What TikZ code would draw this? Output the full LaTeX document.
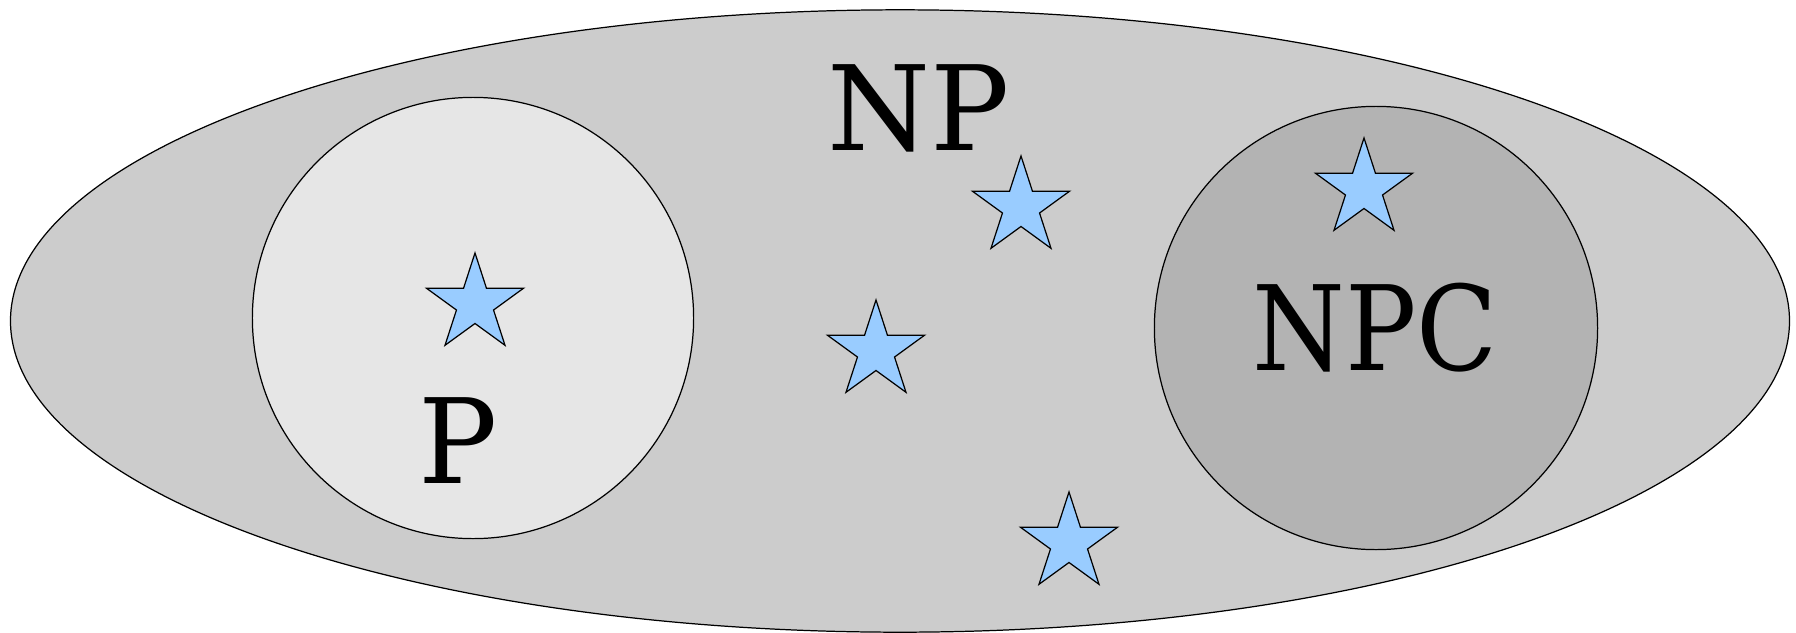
\documentclass[tikz,border=0pt]{standalone}
\usepackage{fontspec}
\setmainfont{DejaVu Serif}
\usepackage{xcolor}
\usepackage{tikz}
\usetikzlibrary{shapes.geometric}
\definecolor{npc}{HTML}{CCCCCC}
\definecolor{pc}{HTML}{E6E6E6}
\definecolor{npcc}{HTML}{B3B3B3}
\definecolor{starc}{HTML}{99CCFF}
\tikzset{
  cls/.style={draw=black,line width=0.35pt,inner sep=0pt},
  probstar/.style={star,star points=5,star point ratio=2.618,draw=black,line width=0.35pt,fill=starc,inner sep=0pt,minimum size=1.02cm},
  lbl/.style={font=\fontsize{33.5}{40}\selectfont,anchor=base,inner sep=0pt}
}
\begin{document}
\begin{tikzpicture}[x=0.01cm,y=-0.01cm]
\useasboundingbox (0,0) rectangle (1796,633);
\node[cls,ellipse,fill=npc,minimum width=17.78cm,minimum height=6.22cm] (np) at (900,321) {};
\node[cls,circle,fill=pc,minimum size=4.41cm] (p) at (473,318) {};
\node[cls,circle,fill=npcc,minimum size=4.43cm] (npcset) at (1376,328) {};
\node[lbl] (nplbl) at (919,150) {NP};
\node[lbl] (plbl) at (458,483) {P};
\node[lbl] (npclbl) at (1375,370) {\scalebox{0.9}[1]{NPC}};
\node[probstar] (s1) at (475,304) {};
\node[probstar] (s2) at (1021,207) {};
\node[probstar] (s3) at (876,351) {};
\node[probstar] (s4) at (1069,543) {};
\node[probstar] (s5) at (1364,189) {};
\end{tikzpicture}
\end{document}
